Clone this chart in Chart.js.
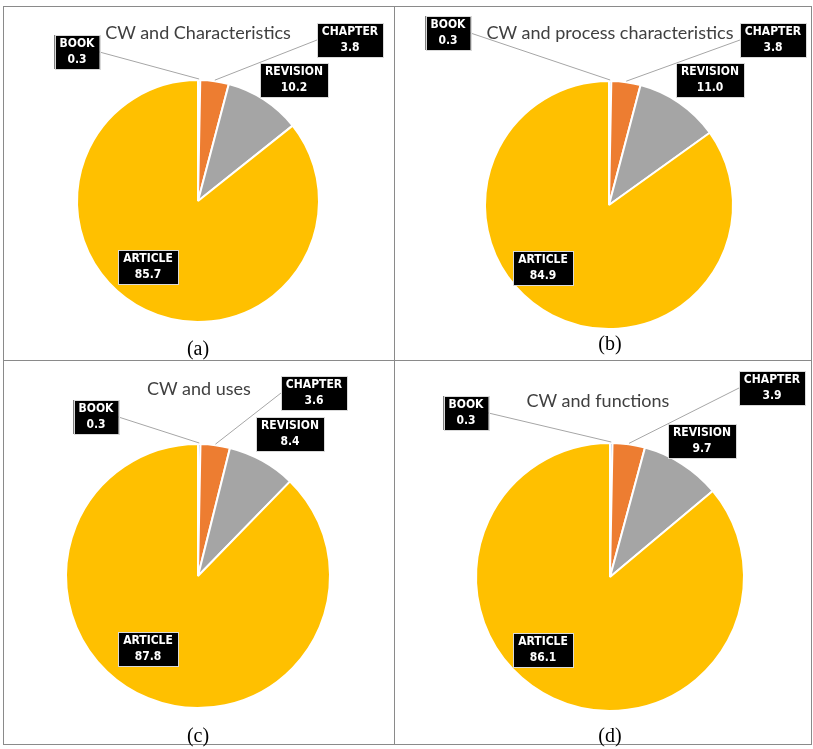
<!DOCTYPE html>
<html>
<head>
<meta charset="utf-8">
<script src="https://cdn.jsdelivr.net/npm/chart.js@4.4.0/dist/chart.umd.min.js"></script>
<style>
  html, body { margin: 0; padding: 0; background: #fff; }
  body { width: 813px; height: 749px; position: relative; overflow: hidden; }
  .frame { position: absolute; left: 3px; top: 6px; width: 809px; height: 739px; border: 1px solid #8a8a8a; box-sizing: border-box; }
  .vline { position: absolute; left: 394px; top: 6px; width: 1px; height: 739px; background: #8a8a8a; }
  .hline { position: absolute; left: 3px; top: 360px; width: 809px; height: 1px; background: #8a8a8a; }
  .cell { position: absolute; }
  .title { position: absolute; font-family: Lato, "Open Sans", sans-serif; font-size: 18px; color: #404040; white-space: nowrap; transform: translate(-50%, -50%); }
  .caption { position: absolute; font-family: "Liberation Serif", serif; font-size: 20px; color: #000; transform: translate(-50%, -50%); }
</style>
</head>
<body>
<div class="frame"></div>
<div class="vline"></div>
<div class="hline"></div>

<script>
const categories = ['BOOK', 'CHAPTER', 'REVISION', 'ARTICLE'];
const valuesA = [0.3, 3.8, 10.2, 85.7];
const valuesB = [0.3, 3.8, 11.0, 84.9];
const valuesC = [0.3, 3.6, 8.4, 87.8];
const valuesD = [0.3, 3.9, 9.7, 86.1];
const titles = ['CW and Characteristics', 'CW and process characteristics', 'CW and uses', 'CW and functions'];
const captions = ['(a)', '(b)', '(c)', '(d)'];
const colors = ['#4472C4', '#ED7D31', '#A5A5A5', '#FFC000'];

// layout of each panel: cell box, pie centre/radius, title & caption spots, label offsets from centre
const panels = [
  { values: valuesA, cell: [4, 7, 390, 353], cx: 198, cy: 201, r: 121, title: [198, 32], caption: [198, 348],
    offsets: [[-121, -149, 'r'], [152, -161, 'l'], [96, -121], [-50, 66]] },
  { values: valuesB, cell: [395, 7, 417, 353], cx: 609, cy: 205, r: 124, title: [610, 32], caption: [610, 343],
    offsets: [[-161, -172, 'r'], [164, -165, 'l'], [101, -125], [-66, 63]] },
  { values: valuesC, cell: [4, 361, 390, 385], cx: 198, cy: 576, r: 132, title: [199, 388], caption: [198, 735],
    offsets: [[-102, -159, 'r'], [116, -183, 'l'], [92, -142], [-50, 73]] },
  { values: valuesD, cell: [395, 361, 417, 385], cx: 610, cy: 577, r: 134, title: [598, 400], caption: [610, 735],
    offsets: [[-144, -164, 'r'], [162, -189, 'l'], [92, -136], [-67, 73]] },
];

const boxLabels = {
  id: 'boxLabels',
  afterDatasetsDraw(chart, args, opts) {
    const ctx = chart.ctx;
    const meta = chart.getDatasetMeta(0);
    const data = chart.data.datasets[0].data;
    ctx.save();
    ctx.font = 'bold 12px "Liberation Sans Narrow", "DejaVu Sans Condensed", sans-serif';
    meta.data.forEach((arc, i) => {
      const off = opts.offsets[i];
      const bx = arc.x + off[0];
      const by = arc.y + off[1];
      const lines = [chart.data.labels[i], data[i].toFixed(1)];
      const w = Math.round(Math.max(...lines.map(t => ctx.measureText(t).width)) + 10);
      const h = 34;

      if (off[2]) {
        const mid = (arc.startAngle + arc.endAngle) / 2;
        const ax = arc.x + Math.cos(mid) * (arc.outerRadius + 1);
        const ay = arc.y + Math.sin(mid) * (arc.outerRadius + 1);
        const ex = off[2] === 'r' ? bx + w / 2 : bx - w / 2;
        ctx.strokeStyle = '#A6A6A6';
        ctx.lineWidth = 1;
        ctx.beginPath();
        ctx.moveTo(ex, by);
        ctx.lineTo(ax, ay);
        ctx.stroke();
      }

      ctx.fillStyle = '#000';
      ctx.fillRect(bx - w / 2, by - h / 2, w, h);
      ctx.strokeStyle = '#d9d9d9';
      ctx.lineWidth = 1;
      ctx.strokeRect(Math.round(bx - w / 2) + 0.5, Math.round(by - h / 2) + 0.5, w, h);
      ctx.fillStyle = '#fff';
      ctx.textAlign = 'center';
      ctx.textBaseline = 'middle';
      ctx.fillText(lines[0], bx, by - 8);
      ctx.fillText(lines[1], bx, by + 8);
    });
    ctx.restore();
  }
};

panels.forEach((p, k) => {
  const [x, y, w, h] = p.cell;
  const wrap = document.createElement('div');
  wrap.className = 'cell';
  wrap.style.left = x + 'px';
  wrap.style.top = y + 'px';
  wrap.style.width = w + 'px';
  wrap.style.height = h + 'px';
  const canvas = document.createElement('canvas');
  wrap.appendChild(canvas);
  document.body.appendChild(wrap);

  const t = document.createElement('div');
  t.className = 'title';
  t.textContent = titles[k];
  t.style.left = p.title[0] + 'px';
  t.style.top = p.title[1] + 'px';
  document.body.appendChild(t);

  const c = document.createElement('div');
  c.className = 'caption';
  c.textContent = captions[k];
  c.style.left = p.caption[0] + 'px';
  c.style.top = p.caption[1] + 'px';
  document.body.appendChild(c);

  const lx = p.cx - x, ly = p.cy - y;
  new Chart(canvas, {
    type: 'pie',
    data: {
      labels: categories,
      datasets: [{
        data: p.values,
        backgroundColor: colors,
        borderColor: '#fff',
        borderWidth: 2,
      }],
    },
    options: {
      responsive: true,
      maintainAspectRatio: false,
      animation: false,
      radius: p.r,
      layout: {
        padding: { left: lx - p.r, right: w - lx - p.r, top: ly - p.r, bottom: h - ly - p.r },
      },
      plugins: {
        legend: { display: false },
        tooltip: { enabled: false },
        boxLabels: { offsets: p.offsets },
      },
    },
    plugins: [boxLabels],
  });
});
</script>
</body>
</html>
